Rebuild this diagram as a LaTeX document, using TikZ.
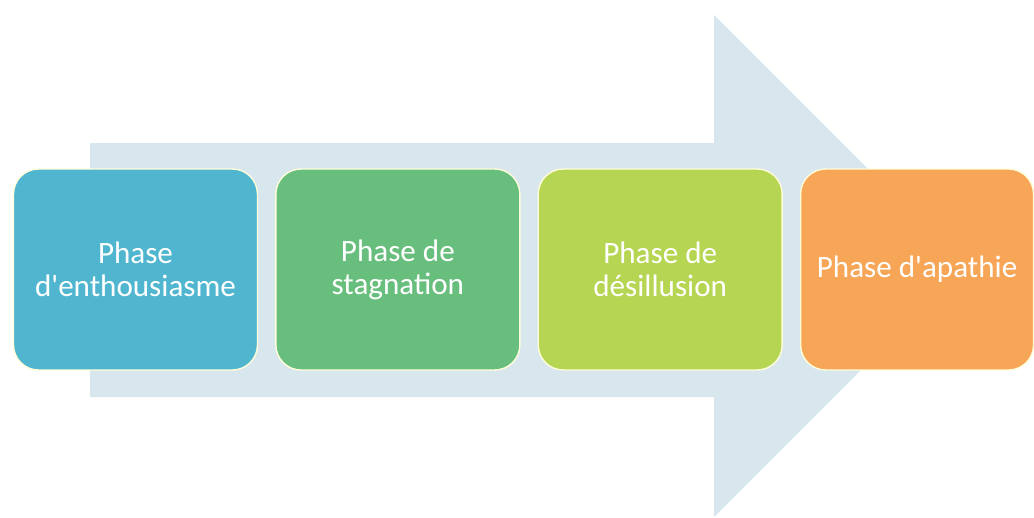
\documentclass[tikz,border=0pt]{standalone}
\usepackage{fontspec}
\setmainfont{Carlito}
\usetikzlibrary{positioning}

\definecolor{arrowbg}{RGB}{216,230,238}
\definecolor{phaseblue}{RGB}{80,182,208}
\definecolor{phasegreen}{RGB}{104,190,124}
\definecolor{phaselime}{RGB}{182,213,82}
\definecolor{phaseorange}{RGB}{246,166,86}

\tikzset{
  phasebox/.style={rounded corners=0.5cm, draw=white!85!yellow, line width=0.8pt,
    minimum width=4.88cm, minimum height=4.02cm, align=center, text=white,
    inner sep=0pt, font=\fontsize{17.7}{18.7}\selectfont}
}

\begin{document}
\begin{tikzpicture}[x=0.02cm,y=-0.02cm]
    \useasboundingbox (0,0) rectangle (1034,517);
    % big arrow behind the phases
    \fill[arrowbg] (90,143) -- (714,143) -- (714,15) -- (965,266) -- (714,517) -- (714,397) -- (90,397) -- cycle;

    \node[phasebox,fill=phaseblue] (enthou) at (135.5,269.5) {Phase\\d\textquotesingle enthousiasme};
    \node[phasebox,fill=phasegreen,right=0.34cm of enthou] (stagn) {Phase de\\stagnation};
    \node[phasebox,fill=phaselime,right=0.34cm of stagn] (desill) {Phase de\\désillusion};
    \node[phasebox,fill=phaseorange,minimum width=4.66cm,right=0.34cm of desill] (apath) {Phase d\textquotesingle apathie};
\end{tikzpicture}
\end{document}
